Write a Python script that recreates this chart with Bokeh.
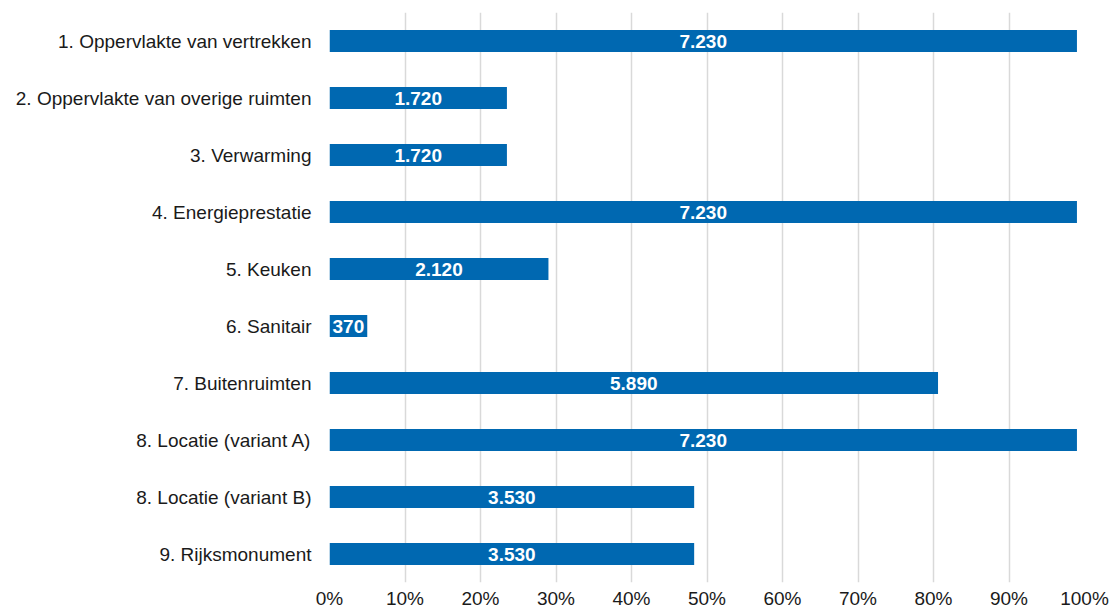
from bokeh.plotting import figure
from bokeh.models import Range1d, FactorRange, FixedTicker, PrintfTickFormatter, ColumnDataSource
from bokeh.core.properties import value
from bokeh.embed import file_html
from bokeh.resources import INLINE

categories = [
    "1. Oppervlakte van vertrekken",
    "2. Oppervlakte van overige ruimten",
    "3. Verwarming",
    "4. Energieprestatie",
    "5. Keuken",
    "6. Sanitair",
    "7. Buitenruimten",
    "8. Locatie (variant A)",
    "8. Locatie (variant B)",
    "9. Rijksmonument",
]
points = [7230, 1720, 1720, 7230, 2120, 370, 5890, 7230, 3530, 3530]
share_pct = [99.0, 23.5, 23.5, 99.0, 29.0, 5.0, 80.6, 99.0, 48.3, 48.3]
x_ticks = [0, 10, 20, 30, 40, 50, 60, 70, 80, 90, 100]

labels = [f"{v:,}".replace(",", ".") for v in points]
mids = [s / 2 for s in share_pct]

src = ColumnDataSource(dict(cat=categories, share=share_pct, label=labels, mid=mids))

FONT = "Liberation Sans"
BLUE = "#0068b1"

p = figure(
    width=1110, height=611,
    x_range=Range1d(0, 100),
    y_range=FactorRange(factors=categories[::-1], range_padding=0),
    output_backend="svg", toolbar_location=None,
    min_border_left=329, min_border_right=26, min_border_top=12, min_border_bottom=29,
)
p.outline_line_color = None
p.background_fill_color = "white"
p.border_fill_color = "white"

p.hbar(y="cat", left=0, right="share", height=0.39, source=src,
       fill_color=BLUE, line_color=None)
p.text(x="mid", y="cat", text="label", source=src,
       text_align="center", text_baseline="middle",
       text_font=value(FONT), text_font_style="bold",
       text_font_size="19px", text_color="white")

p.ygrid.grid_line_color = None
p.xgrid.grid_line_color = "#d9d9d9"
p.xgrid.grid_line_width = 1.5

p.xaxis.ticker = FixedTicker(ticks=x_ticks)
p.xaxis.formatter = PrintfTickFormatter(format="%d%%")
p.xaxis.axis_line_color = None
p.xaxis.major_tick_line_color = None
p.xaxis.minor_tick_line_color = None
p.xaxis.major_tick_out = 0
p.xaxis.major_label_standoff = 5
p.xaxis.major_label_text_font = FONT
p.xaxis.major_label_text_font_size = "19px"
p.xaxis.major_label_text_color = "#1a1a1a"

p.yaxis.axis_line_color = None
p.yaxis.major_tick_line_color = None
p.yaxis.minor_tick_line_color = None
p.yaxis.major_tick_out = 0
p.yaxis.major_label_standoff = 18
p.yaxis.major_label_text_font = FONT
p.yaxis.major_label_text_font_size = "19px"
p.yaxis.major_label_text_color = "#1a1a1a"

open("out.html", "w").write(file_html(p, INLINE))
